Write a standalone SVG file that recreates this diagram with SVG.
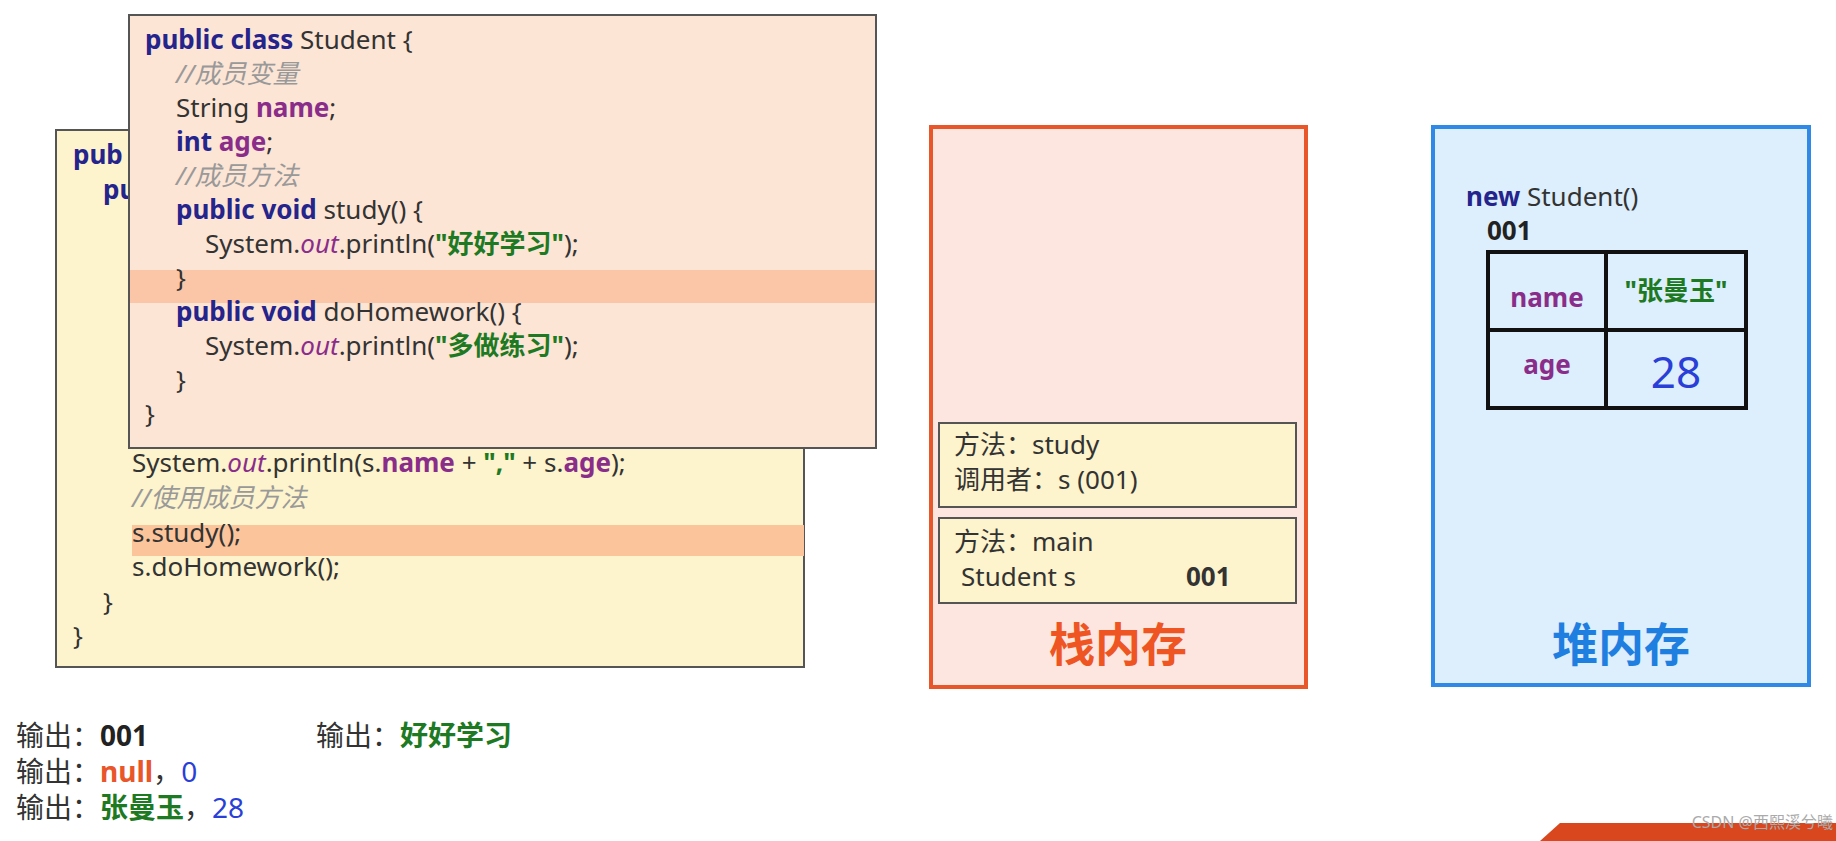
<svg xmlns="http://www.w3.org/2000/svg" width="1836" height="841" viewBox="0 0 1836 841">
<style>
text{font-family:"Noto Sans","Noto Sans CJK SC",sans-serif;fill:#333;}
.c{font-size:26px;}
.k{fill:#24248c;font-weight:bold;}
.f{fill:#8a2d8a;font-weight:bold;}
.s{fill:#1d7a22;font-weight:bold;}
.o{fill:#8a2d8a;font-style:italic;}
.cm{fill:#999;font-style:italic;}
.b{font-size:28px;}
</style>
<rect width="1836" height="841" fill="#fff"/>
<g id="main-code">
<rect x="56" y="130" width="748" height="537" fill="#fdf3cc" stroke="#555" stroke-width="2"/>
<rect x="132" y="525" width="672" height="31" fill="#fbc49a"/>
<text class="c" x="73" y="164"><tspan class="k">pub</tspan></text>
<text class="c" x="103" y="199"><tspan class="k">pu</tspan></text>
<text class="c" x="132" y="472">System.<tspan class="o">out</tspan>.println(s.<tspan class="f">name</tspan> + <tspan class="s">","</tspan> + s.<tspan class="f">age</tspan>);</text>
<text class="c cm" x="132" y="507">//使用成员方法</text>
<text class="c" x="132" y="542">s.study();</text>
<text class="c" x="132" y="576">s.doHomework();</text>
<text class="c" x="103" y="611">}</text>
<text class="c" x="73" y="645">}</text>
</g>
<g id="student-code">
<rect x="129" y="15" width="747" height="433" fill="#fde5d5" stroke="#555" stroke-width="2"/>
<rect x="130" y="270" width="745" height="33" fill="#fbc5a8"/>
<text class="c" x="145" y="49"><tspan class="k">public class</tspan> Student {</text>
<text class="c cm" x="176" y="83">//成员变量</text>
<text class="c" x="176" y="117">String <tspan class="f">name</tspan>;</text>
<text class="c" x="176" y="151"><tspan class="k">int</tspan> <tspan class="f">age</tspan>;</text>
<text class="c cm" x="176" y="185">//成员方法</text>
<text class="c" x="176" y="219"><tspan class="k">public void</tspan> study() {</text>
<text class="c" x="205" y="253">System.<tspan class="o">out</tspan>.println(<tspan class="s">"好好学习"</tspan>);</text>
<text class="c" x="176" y="287">}</text>
<text class="c" x="176" y="321"><tspan class="k">public void</tspan> doHomework() {</text>
<text class="c" x="205" y="355">System.<tspan class="o">out</tspan>.println(<tspan class="s">"多做练习"</tspan>);</text>
<text class="c" x="176" y="389">}</text>
<text class="c" x="145" y="423">}</text>
</g>
<g id="stack">
<rect x="931" y="127" width="375" height="560" fill="#fde6e0" stroke="#e8562a" stroke-width="4"/>
<rect x="939" y="423" width="357" height="84" fill="#fdf3cc" stroke="#555" stroke-width="2"/>
<text class="c" x="954" y="454">方法：study</text>
<text class="c" x="954" y="489">调用者：s (001)</text>
<rect x="939" y="518" width="357" height="85" fill="#fdf3cc" stroke="#555" stroke-width="2"/>
<text class="c" x="954" y="551">方法：main</text>
<text class="c" x="961" y="586">Student s</text>
<text class="c" x="1186" y="586" font-weight="bold" fill="#222">001</text>
<text x="1118" y="661" font-size="46" font-weight="bold" fill="#ee5522" text-anchor="middle" style="fill:#ee5522">栈内存</text>
</g>
<g id="heap">
<rect x="1433" y="127" width="376" height="558" fill="#ddeefc" stroke="#2e8ae6" stroke-width="4"/>
<text class="c" x="1466" y="206"><tspan class="k">new</tspan> Student()</text>
<text class="c" x="1487" y="240" font-weight="bold" style="fill:#222">001</text>
<rect x="1488" y="252" width="258" height="156" fill="none" stroke="#111" stroke-width="4"/>
<line x1="1606" y1="252" x2="1606" y2="408" stroke="#111" stroke-width="4"/>
<line x1="1488" y1="330" x2="1746" y2="330" stroke="#111" stroke-width="4"/>
<text class="c f" x="1547" y="307" text-anchor="middle">name</text>
<text class="c s" x="1676" y="300" text-anchor="middle">"张曼玉"</text>
<text class="c f" x="1547" y="374" text-anchor="middle">age</text>
<text x="1676" y="388" font-size="44" text-anchor="middle" style="fill:#2a3ed8">28</text>
<text x="1621" y="661" font-size="46" font-weight="bold" text-anchor="middle" style="fill:#1f7fe0">堆内存</text>
</g>
<g id="output">
<text class="b" x="16" y="746">输出：<tspan font-weight="bold" style="fill:#222">001</tspan></text>
<text class="b" x="316" y="746">输出：<tspan class="s">好好学习</tspan></text>
<text class="b" x="16" y="782">输出：<tspan font-weight="bold" style="fill:#e8562a">null</tspan>，<tspan style="fill:#2a3ed8">0</tspan></text>
<text class="b" x="16" y="818">输出：<tspan class="s">张曼玉</tspan>，<tspan style="fill:#2a3ed8">28</tspan></text>
</g>
<g id="connectors"></g>
<polygon points="1540,841 1560,823 1836,823 1836,841" fill="#d8471e"/>
<text x="1833" y="828" font-size="16" text-anchor="end" style="fill:#aaa">CSDN @西熙溪兮曦</text>
</svg>
